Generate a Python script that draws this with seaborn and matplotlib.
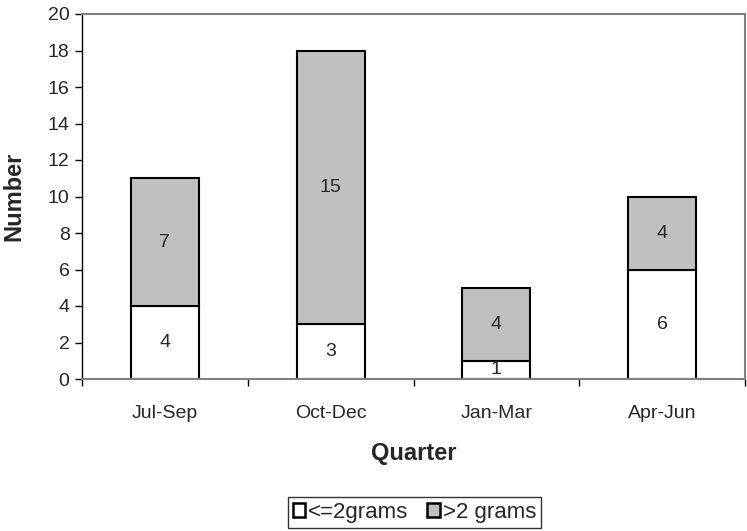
import matplotlib
matplotlib.use("Agg")
import matplotlib.pyplot as plt
import seaborn as sns
import pandas as pd
from matplotlib.patches import Patch

quarters = ["Jul-Sep", "Oct-Dec", "Jan-Mar", "Apr-Jun"]
small = [4, 3, 1, 6]
large = [7, 15, 4, 4]
series_names = ["<=2grams", ">2 grams"]
yticks = list(range(0, 21, 2))

sns.set_theme(style="white")
plt.rcParams['font.family'] = ['Liberation Sans', 'DejaVu Sans']

fig = plt.figure(figsize=(7.47, 5.31), dpi=100)
ax = fig.add_axes([82/747, 1-379/531, (745-82)/747, (379-14)/531])

df = pd.DataFrame({"Quarter": quarters, "small": small, "large": large})
w = 0.41
sns.barplot(data=df, x="Quarter", y="small", color="white", edgecolor="black",
            linewidth=1.5, width=w, ax=ax, saturation=1)
sns.barplot(data=df, x="Quarter", y="large", bottom=df["small"], color="#C0C0C0",
            edgecolor="black", linewidth=1.5, width=w, ax=ax, saturation=1)

fs = 14
for i, (s, l) in enumerate(zip(small, large)):
    ax.text(i, s / 2, str(s), ha="center", va="center", fontsize=fs)
    ax.text(i, s + l / 2, str(l), ha="center", va="center", fontsize=fs)

ax.set_ylim(0, 20)
ax.set_xlim(-0.5, 3.5)
ax.set_yticks(yticks)
ax.set_yticklabels([str(t) for t in yticks], fontsize=fs)
ax.set_xticks([i - 0.5 for i in range(len(quarters) + 1)], minor=True)
ax.tick_params(axis="x", which="major", labelsize=fs, length=0, pad=19)
ax.tick_params(axis="x", which="minor", length=5, width=1, color="black", bottom=True, direction="out")
ax.tick_params(axis="y", length=5, width=1, color="black", left=True, direction="out", pad=4)
ax.set_xlabel("Quarter", fontsize=17, fontweight="bold", labelpad=14)
ax.set_ylabel("Number", fontsize=17, fontweight="bold", labelpad=16)

for side in ["top", "right", "bottom"]:
    ax.spines[side].set_color("#808080")
    ax.spines[side].set_linewidth(1.5)
ax.spines["left"].set_color("black")
ax.spines["left"].set_linewidth(1.0)

handles = [Patch(facecolor="white", edgecolor="black", linewidth=1.8),
           Patch(facecolor="#C0C0C0", edgecolor="black", linewidth=1.8)]
leg = fig.legend(handles, series_names, loc="center", bbox_to_anchor=(414.5/747, 1-512.5/531),
                 ncol=2, fontsize=16, frameon=True, fancybox=False, handlelength=0.55,
                 handleheight=0.55, handletextpad=0.14, columnspacing=0.85, borderpad=0.22)
leg.get_frame().set_edgecolor("black")
leg.get_frame().set_linewidth(1.0)

fig.savefig("out.png", dpi=100)
